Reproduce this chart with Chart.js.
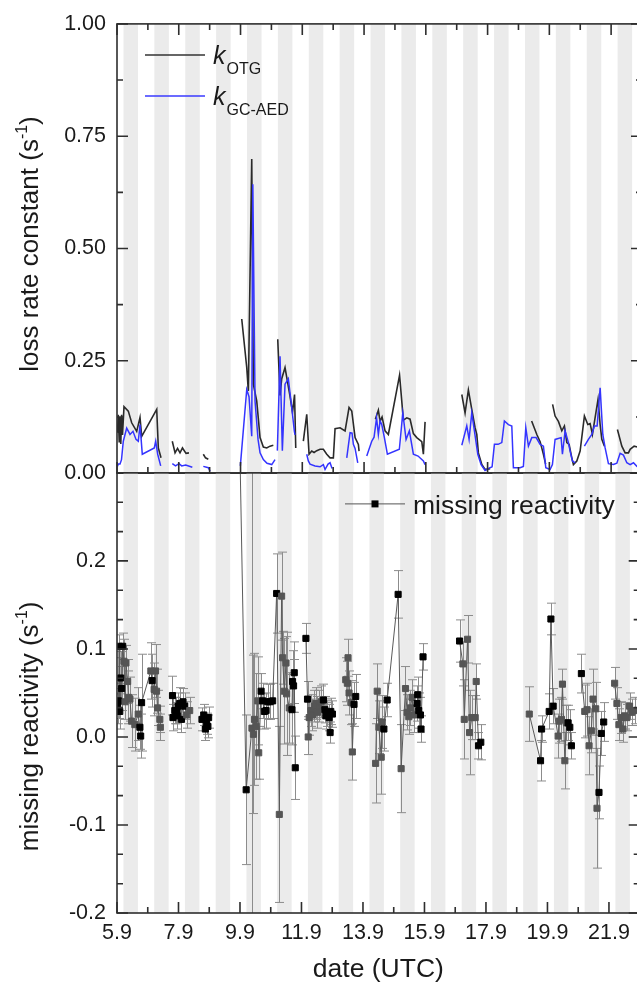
<!DOCTYPE html>
<html>
<head>
<meta charset="utf-8">
<script src="https://cdn.jsdelivr.net/npm/chart.js@4.4.1/dist/chart.umd.min.js"></script>
<style>
html, body { margin: 0; padding: 0; background: #fff; }
#wrap { position: relative; width: 637px; height: 993px; overflow: hidden; }
.box { position: absolute; left: 0; width: 645px; }
</style>
</head>
<body>
<div id="wrap">
  <div class="box" style="top:0;height:497px"><canvas id="topChart"></canvas></div>
  <div class="box" style="top:449px;height:544px"><canvas id="botChart"></canvas></div>
</div>
<script>
const FONT = "'Liberation Sans', Arial, sans-serif";

// axis ticks (day of September)
const xTickDays = [5, 7, 9, 11, 13, 15, 17, 19, 21];
const xTickLabels = ['5.9', '7.9', '9.9', '11.9', '13.9', '15.9', '17.9', '19.9', '21.9'];
const xMinorDays = [6, 8, 10, 12, 14, 16, 18, 20];
const kTicks = [0, 0.25, 0.5, 0.75, 1];
const kMinor = [0.125, 0.375, 0.625, 0.875];
const mrTicks = [-0.2, -0.1, 0, 0.1, 0.2];
const mrMinor = [-0.1667, -0.1333, -0.0667, -0.0333, 0.0333, 0.0667, 0.1333, 0.1667, 0.2333, 0.2667];

// shaded periods
const nightStart = [5.21, 6.21, 7.21, 8.21, 9.21, 10.21, 11.21, 12.21, 13.21, 14.21, 15.21, 16.21, 17.21, 18.21, 19.21, 20.21, 21.21];
const nightEnd   = [5.68, 6.68, 7.68, 8.68, 9.68, 10.68, 11.68, 12.68, 13.68, 14.68, 15.68, 16.68, 17.68, 18.68, 19.68, 20.68, 21.68];

// k_OTG (null = gap)
const otgDay = [5.016,5.042,5.071,5.097,5.123,5.149,5.178,5.227,5.366,5.476,5.638,5.745,5.80,6.286,6.338,6.425,null,
  6.79,6.88,6.96,7.04,7.12,7.235,7.33,null,
  7.795,7.866,7.957,null,
  9.039,9.201,9.253,9.363,9.415,9.525,9.632,9.739,9.849,9.955,10.062,null,
  10.205,10.279,10.334,10.441,10.603,10.684,10.749,10.788,null,
  11.034,11.144,11.219,11.306,11.381,11.468,11.575,11.682,11.792,11.899,12.006,12.061,12.223,12.385,12.514,12.602,12.709,12.816,12.838,null,
  13.366,13.463,13.518,13.583,13.68,13.787,14.15,14.273,14.383,14.49,14.597,14.707,14.869,14.921,14.976,null,
  16.165,16.271,16.378,16.488,16.595,16.65,16.702,16.812,16.919,17.081,null,
  18.426,18.594,18.701,18.808,18.879,null,
  19.105,19.186,19.293,19.403,19.488,19.565,19.64,19.727,19.779,19.889,19.996,20.135,20.245,20.32,20.395,20.576,20.644,20.699,20.783,null,
  21.204,21.347,21.454,21.561,21.616,21.745,21.85];
const otgK = [0.09,0.13,0.07,0.125,0.065,0.13,0.085,0.148,0.138,0.112,0.093,0.124,0.082,0.142,0.056,0.034,null,
  0.071,0.045,0.055,0.045,0.056,0.044,0.045,null,
  0.042,0.034,0.031,null,
  0.343,0.235,0.183,0.699,0.198,0.16,0.079,0.058,0.056,0.06,0.062,null,
  0.298,0.173,0.21,0.235,0.171,0.135,0.175,0.056,null,
  0.071,0.131,0.042,0.049,0.046,0.05,0.053,0.053,0.042,0.034,0.034,0.099,0.101,0.094,0.146,0.138,0.079,0.064,0.049,null,
  0.12,0.14,0.115,0.125,0.094,0.086,0.218,0.118,0.123,0.12,0.088,0.079,0.07,0.042,0.114,null,
  0.175,0.134,0.185,0.142,0.101,0.086,0.045,0.019,0.008,0.01,null,
  0.116,0.086,0.07,0.042,0.02,null,
  0.153,0.127,0.115,0.094,0.105,0.068,0.064,0.034,0.019,0.027,0.049,0.127,0.108,0.11,0.086,0.164,0.108,0.075,0.06,null,
  0.097,0.06,0.045,0.045,0.053,0.06,0.058];

// k_GC-AED (null = gap)
const aedDay = [5.016,5.042,5.097,5.146,5.204,5.314,5.421,5.518,5.615,5.69,5.745,5.819,6.208,6.253,6.318,6.415,null,
  6.791,6.895,7.008,7.096,7.225,7.439,null,
  7.795,7.957,8.012,null,
  8.994,9.201,9.275,9.363,9.398,9.47,9.567,9.632,9.739,9.858,10.011,10.117,null,
  10.192,10.279,10.354,10.441,10.548,10.658,10.743,10.765,null,
  11.144,11.196,11.251,11.413,11.575,11.682,11.737,11.834,11.899,11.964,null,
  12.44,12.547,12.611,12.654,12.709,12.796,null,
  13.087,13.249,13.324,13.405,13.463,13.518,13.573,13.658,13.755,14.143,14.254,14.36,14.467,14.597,14.749,14.921,14.976,null,
  16.165,16.326,16.401,16.488,16.573,16.683,16.79,16.919,17.081,17.146,17.221,17.34,17.46,17.544,17.674,17.784,17.836,18.053,18.16,18.237,18.322,18.432,18.571,18.701,18.808,18.885,19.024,19.099,19.186,19.381,19.423,19.51,19.617,19.672,19.747,19.834,null,
  20.135,20.265,20.375,20.459,20.547,20.644,20.731,20.806,20.913,21.075,21.185,21.292,21.399,21.509,21.616,21.723,21.833,21.92];
const aedK = [0.015,0.02,0.02,0.03,0.071,0.10,0.086,0.093,0.075,0.071,0.108,0.042,0.056,0.071,0.042,0.016,null,
  0.021,0.016,0.021,0.016,0.018,0.013,null,
  0.015,0.012,0.004,null,
  0.016,0.186,0.17,0.082,0.643,0.16,0.075,0.045,0.03,0.022,0.019,0.03,null,
  0.05,0.26,0.05,0.198,0.21,0.146,0.093,0.085,null,
  0.042,0.027,0.02,0.016,0.014,0.019,0.008,0.02,0.023,0.01,null,
  0.034,0.09,0.089,0.064,0.055,0.023,null,
  0.038,0.071,0.08,0.123,0.086,0.116,0.108,0.079,0.042,0.053,0.134,0.075,0.094,0.042,0.038,0.027,0.019,null,
  0.062,0.105,0.075,0.134,0.094,0.042,0.019,0.006,0.012,0.014,0.064,0.064,0.068,0.116,0.108,0.105,0.012,0.012,0.015,0.101,0.06,0.079,0.079,0.064,0.06,0.012,0.008,0.019,0.075,0.079,0.042,0.094,0.068,0.049,0.027,0.023,null,
  0.06,0.075,0.086,0.105,0.105,0.19,0.086,0.056,0.021,0.019,0.022,0.044,0.04,0.023,0.019,0.023,0.015,0.018];

// missing reactivity, its error and marker shade (1 = black, 0 = grey)
const mrDay = [5.02,5.05,5.07,5.09,5.12,5.15,5.185,5.227,5.26,5.291,5.347,5.37,5.42,5.476,5.58,5.69,5.745,5.77,5.80,
  6.101,6.143,6.208,6.253,6.286,6.318,6.393,6.41,null,
  6.804,6.82,6.879,6.934,6.96,6.985,7.041,7.096,7.147,7.202,7.267,7.364,null,
  7.763,7.82,7.873,7.915,7.957,7.98,null,
  9.0,9.201,9.389,9.437,9.47,9.525,9.577,9.609,9.687,9.739,9.794,9.849,9.905,9.978,10.062,
  10.192,10.279,10.354,10.386,10.441,10.496,10.516,10.603,10.691,10.71,10.743,10.765,10.798,null,
  11.144,11.196,11.219,11.251,11.306,11.358,11.413,11.468,11.52,11.575,11.64,11.714,11.76,11.792,11.844,11.899,11.931,11.953,12.006,null,
  12.44,12.492,12.514,12.547,12.621,12.654,12.709,12.764,null,
  13.411,13.463,13.518,13.593,13.625,13.68,13.787,14.143,14.241,14.383,14.435,14.49,14.545,14.597,14.652,14.759,14.78,14.814,14.869,14.888,14.953,null,
  16.142,16.249,16.294,16.401,16.466,16.54,16.65,16.683,16.757,16.832,null,
  18.409,18.775,18.808,19.057,19.112,19.186,19.348,19.381,19.455,19.488,19.565,19.617,19.672,19.727,19.779,null,
  20.103,20.213,20.288,20.353,20.427,20.482,20.569,20.611,20.676,20.751,20.829,null,
  21.185,21.259,21.324,21.399,21.454,21.509,21.583,21.671,21.745,21.84];
const mrVal = [0.035,0.041,0.103,0.029,0.067,0.055,0.103,0.086,0.04,0.084,0.063,0.045,0.043,0.018,0.014,0.026,0.011,0.001,0.039,
  0.075,0.064,0.054,0.075,0.052,0.033,0.02,0.011,null,
  0.047,0.022,0.03,0.03,0.024,0.035,0.038,0.02,0.04,0.035,0.025,0.03,null,
  0.02,0.025,0.009,0.015,0.012,0.022,null,
  0.32,-0.06,0.01,0.003,0.02,0.012,0.041,-0.018,0.052,0.041,0.029,0.03,0.04,0.04,0.041,
  0.163,-0.088,0.16,0.09,0.052,0.084,0.049,0.033,0.031,0.063,0.058,0.073,-0.035,null,
  0.112,0.043,0.0,0.022,0.03,0.025,0.035,0.038,0.028,0.035,0.04,0.042,0.031,0.024,0.027,0.022,0.005,0.029,0.026,null,
  0.065,0.061,0.09,0.05,0.039,-0.017,0.037,0.046,null,
  -0.03,0.052,0.011,-0.023,0.017,0.009,0.042,0.162,-0.036,0.055,0.028,0.023,0.033,0.045,0.025,0.038,0.048,0.03,0.025,0.009,0.091,null,
  0.109,0.083,0.02,0.111,0.005,0.022,0.022,0.063,-0.01,-0.006,null,
  0.026,-0.027,0.009,0.029,0.134,0.035,0.001,0.018,0.02,0.06,-0.027,0.016,0.016,0.011,-0.01,null,
  0.072,0.029,0.031,-0.01,0.007,0.043,0.032,-0.081,-0.063,0.004,0.017,null,
  0.061,0.038,0.014,0.022,0.009,0.024,0.022,0.035,0.028,0.03];
const mrErr = [0.02,0.02,0.013,0.02,0.03,0.025,0.015,0.025,0.02,0.02,0.025,0.03,0.025,0.03,0.03,0.03,0.025,0.025,0.055,
  0.032,0.03,0.03,0.03,0.025,0.02,0.015,0.015,null,
  0.022,0.015,0.015,0.015,0.015,0.015,0.018,0.015,0.015,0.015,0.015,0.015,null,
  0.013,0.012,0.013,0.012,0.013,0.012,null,
  0,0.085,0.6,0.09,0.075,0.06,0.05,0.03,0.02,0.02,0.02,0.02,0.02,0.02,0.02,
  0.045,0.1,0.05,0.03,0.06,0.03,0.07,0.04,0.04,0.035,0.03,0.035,0.036,null,
  0.017,0.02,0.02,0.02,0.018,0.018,0.018,0.018,0.018,0.018,0.018,0.018,0.015,0.015,0.015,0.015,0.012,0.015,0.015,null,
  0.025,0.025,0.021,0.025,0.025,0.032,0.025,0.025,null,
  0.045,0.031,0.03,0.042,0.03,0.025,0.019,0.027,0.05,0.025,0.02,0.02,0.02,0.02,0.02,0.02,0.02,0.02,0.02,0.015,0.015,null,
  0.024,0.025,0.045,0.027,0.048,0.025,0.025,0.02,0.015,0.02,null,
  0.031,0.023,0.015,0.02,0.018,0.02,0.025,0.025,0.025,0.017,0.032,0.02,0.02,0.02,0.015,null,
  0.022,0.03,0.03,0.033,0.025,0.034,0.03,0.068,0.03,0.025,0.022,null,
  0.018,0.018,0.018,0.018,0.015,0.015,0.015,0.015,0.015,0.015];
const mrDark = [1,1,1,1,1,1,1,0,0,0,0,0,0,0,0,0,1,1,1,
  0,1,0,0,0,0,0,0,0,
  1,1,1,1,1,1,1,1,1,1,0,0,0,
  1,1,1,1,1,1,0,
  1,1,0,0,0,0,0,0,1,1,1,1,1,1,1,
  1,0,0,0,0,0,0,0,1,1,1,1,1,0,
  1,1,0,0,0,0,0,0,0,0,0,1,1,1,1,1,1,1,1,0,
  0,0,0,0,0,0,1,1,0,
  0,0,0,0,0,1,1,1,0,0,0,0,0,0,0,1,1,1,1,1,1,0,
  1,0,0,0,0,0,0,0,1,1,0,
  0,1,1,1,1,1,0,0,0,0,0,0,1,1,1,0,
  1,0,0,0,0,0,0,0,1,1,1,0,
  0,0,0,0,0,0,0,0,0,0];

function toPoints(days, vals) {
  return days.map((d, i) => ({ x: d === null ? days[i - 1] : d, y: vals[i] }));
}

const nightBands = {
  id: 'nights',
  beforeDatasetsDraw(chart) {
    const { ctx, chartArea: a, scales: { x } } = chart;
    ctx.save();
    ctx.fillStyle = '#ebebeb';
    nightStart.forEach((s, i) => {
      const l = Math.max(x.getPixelForValue(s), a.left);
      const r = Math.min(x.getPixelForValue(nightEnd[i]), a.right);
      if (r > l) ctx.fillRect(l, a.top, r - l, a.bottom - a.top);
    });
    ctx.restore();
  }
};

const errorBars = {
  id: 'errbars',
  beforeDatasetsDraw(chart) {
    const { ctx, chartArea: a, scales: { y } } = chart;
    const meta = chart.getDatasetMeta(0);
    ctx.save();
    ctx.beginPath();
    ctx.rect(a.left, a.top, a.right - a.left, a.bottom - a.top);
    ctx.clip();
    ctx.strokeStyle = '#8c8c8c';
    ctx.lineWidth = 1;
    ctx.beginPath();
    meta.data.forEach((pt, i) => {
      const v = mrVal[i], e = mrErr[i];
      if (v === null || !e) return;
      const y1 = y.getPixelForValue(v + e), y2 = y.getPixelForValue(v - e);
      const px = Math.round(pt.x) + 0.5;
      ctx.moveTo(px, y1); ctx.lineTo(px, y2);
      ctx.moveTo(px - 4.5, y1); ctx.lineTo(px + 4.5, y1);
      ctx.moveTo(px - 4.5, y2); ctx.lineTo(px + 4.5, y2);
    });
    ctx.stroke();
    ctx.restore();
  }
};

const frame = {
  id: 'frame',
  afterDatasetsDraw(chart, args, o) {
    const { ctx, chartArea: a, scales: { x, y } } = chart;
    ctx.save();
    ctx.strokeStyle = '#2e2e2e';
    ctx.lineWidth = 1.6;
    ctx.strokeRect(a.left, a.top, a.right - a.left, a.bottom - a.top);
    ctx.beginPath();
    const marks = (scale, vals, len, sides) => vals.forEach(v => {
      const p = scale.getPixelForValue(v);
      sides.forEach(sd => {
        if (sd === 'bottom') { ctx.moveTo(p, a.bottom); ctx.lineTo(p, a.bottom - len); }
        if (sd === 'top') { ctx.moveTo(p, a.top); ctx.lineTo(p, a.top + len); }
        if (sd === 'left') { ctx.moveTo(a.left, p); ctx.lineTo(a.left + len, p); }
        if (sd === 'right') { ctx.moveTo(a.right, p); ctx.lineTo(a.right - len, p); }
      });
    });
    marks(x, xTickDays, 11, o.xSides);
    marks(x, xMinorDays, 6, o.xSides);
    marks(y, o.yMajor, 11, ['left', 'right']);
    marks(y, o.yMinor, 6, ['left', 'right']);
    ctx.stroke();
    ctx.restore();
  }
};

function rotatedTitle(ctx, cx, cy, parts, size) {
  ctx.save();
  ctx.translate(cx, cy);
  ctx.rotate(-Math.PI / 2);
  ctx.fillStyle = '#1a1a1a';
  ctx.textBaseline = 'alphabetic';
  const big = size + 'px ' + FONT, small = Math.round(size * 0.62) + 'px ' + FONT;
  ctx.font = big;
  const w0 = ctx.measureText(parts[0]).width, w2 = ctx.measureText(parts[2]).width;
  ctx.font = small;
  const w1 = ctx.measureText(parts[1]).width;
  let u = -(w0 + w1 + w2) / 2;
  const base = size * 0.36;
  ctx.font = big; ctx.fillText(parts[0], u, base); u += w0;
  ctx.font = small; ctx.fillText(parts[1], u, base - size * 0.42); u += w1;
  ctx.font = big; ctx.fillText(parts[2], u, base);
  ctx.restore();
}

function legendK(ctx, x, y, color, sub) {
  ctx.strokeStyle = color;
  ctx.lineWidth = 1.5;
  ctx.beginPath(); ctx.moveTo(x, y); ctx.lineTo(x + 60, y); ctx.stroke();
  ctx.fillStyle = '#1a1a1a';
  ctx.textBaseline = 'alphabetic';
  ctx.font = 'italic 25px ' + FONT;
  ctx.fillText('k', x + 68, y + 9.5);
  const kw = ctx.measureText('k').width;
  ctx.font = '16px ' + FONT;
  ctx.fillText(sub, x + 69 + kw, y + 19);
}

const topExtras = {
  id: 'topExtras',
  afterDraw(chart) {
    const { ctx, chartArea: a } = chart;
    rotatedTitle(ctx, a.left - 88, a.top + 0.49 * (a.bottom - a.top), ['loss rate constant (s', '-1', ')'], 26);
    ctx.save();
    legendK(ctx, a.left + 28, a.top + 31, '#333333', 'OTG');
    legendK(ctx, a.left + 28, a.top + 72, '#3a3aff', 'GC-AED');
    ctx.restore();
  }
};

const botExtras = {
  id: 'botExtras',
  afterDraw(chart) {
    const { ctx, chartArea: a } = chart;
    rotatedTitle(ctx, a.left - 88, a.top + 0.576 * (a.bottom - a.top), ['missing reactivity (s', '-1', ')'], 26);
    ctx.save();
    const lx = a.left + 228, ly = a.top + 31;
    ctx.strokeStyle = '#555';
    ctx.lineWidth = 1;
    ctx.beginPath(); ctx.moveTo(lx, ly); ctx.lineTo(lx + 60, ly); ctx.stroke();
    ctx.fillStyle = '#000';
    ctx.fillRect(lx + 26.5, ly - 3.5, 7, 7);
    ctx.fillStyle = '#1a1a1a';
    ctx.font = '26.5px ' + FONT;
    ctx.textBaseline = 'alphabetic';
    ctx.fillText('missing reactivity', lx + 68, a.top + 41);
    ctx.restore();
  }
};

const tickFont = { family: FONT, size: 21.5 };
const noGrid = { display: false, drawTicks: false };

new Chart(document.getElementById('topChart'), {
  type: 'line',
  data: {
    datasets: [
      { label: 'k GC-AED', data: toPoints(aedDay, aedK), borderColor: '#3434ff', borderWidth: 1.5, pointRadius: 0, spanGaps: false, clip: 0 },
      { label: 'k OTG', data: toPoints(otgDay, otgK), borderColor: '#2a2a2a', borderWidth: 1.6, pointRadius: 0, spanGaps: false, clip: 0 }
    ]
  },
  options: {
    responsive: true,
    maintainAspectRatio: false,
    animation: false,
    events: [],
    layout: { padding: { left: 0, right: 3, top: 23, bottom: 14 } },
    scales: {
      x: { type: 'linear', min: 5, max: 22, display: false },
      y: {
        min: 0, max: 1,
        afterBuildTicks: s => { s.ticks = kTicks.map(v => ({ value: v })); },
        afterFit: s => { s.width = 117; },
        ticks: { font: tickFont, color: '#1a1a1a', padding: 11, callback: v => v.toFixed(2) },
        grid: noGrid,
        border: { display: false }
      }
    },
    plugins: {
      legend: { display: false },
      tooltip: { enabled: false },
      frame: { xSides: ['top', 'bottom'], yMajor: kTicks, yMinor: kMinor }
    }
  },
  plugins: [nightBands, frame, topExtras]
});

new Chart(document.getElementById('botChart'), {
  type: 'line',
  data: {
    datasets: [{
      label: 'missing reactivity',
      data: toPoints(mrDay, mrVal),
      borderColor: '#5a5a5a',
      borderWidth: 1,
      spanGaps: false,
      clip: 0,
      pointStyle: 'rect',
      pointRadius: 4.3,
      pointBorderWidth: 1,
      pointBackgroundColor: mrDark.map(d => d ? '#000000' : '#555555'),
      pointBorderColor: mrDark.map(d => d ? '#000000' : '#555555')
    }]
  },
  options: {
    responsive: true,
    maintainAspectRatio: false,
    animation: false,
    events: [],
    layout: { padding: { left: 0, right: 3, top: 20, bottom: 0 } },
    scales: {
      x: {
        type: 'linear', min: 5, max: 22,
        afterBuildTicks: s => { s.ticks = xTickDays.map(v => ({ value: v })); },
        afterFit: s => { s.height = 80; },
        ticks: {
          font: tickFont, color: '#1a1a1a', padding: 7, maxRotation: 0, autoSkip: false,
          callback: v => xTickLabels[xTickDays.indexOf(v)] ?? ''
        },
        title: { display: true, text: 'date (UTC)', color: '#1a1a1a', font: { family: FONT, size: 26.5 }, padding: { top: 0, bottom: 7 } },
        grid: noGrid,
        border: { display: false }
      },
      y: {
        min: -0.2, max: 0.3,
        afterBuildTicks: s => { s.ticks = mrTicks.map(v => ({ value: v })); },
        afterFit: s => { s.width = 117; },
        ticks: { font: tickFont, color: '#1a1a1a', padding: 11, callback: v => v.toFixed(1) },
        grid: noGrid,
        border: { display: false }
      }
    },
    plugins: {
      legend: { display: false },
      tooltip: { enabled: false },
      frame: { xSides: ['bottom'], yMajor: mrTicks, yMinor: mrMinor }
    }
  },
  plugins: [nightBands, errorBars, frame, botExtras]
});
</script>
</body>
</html>
